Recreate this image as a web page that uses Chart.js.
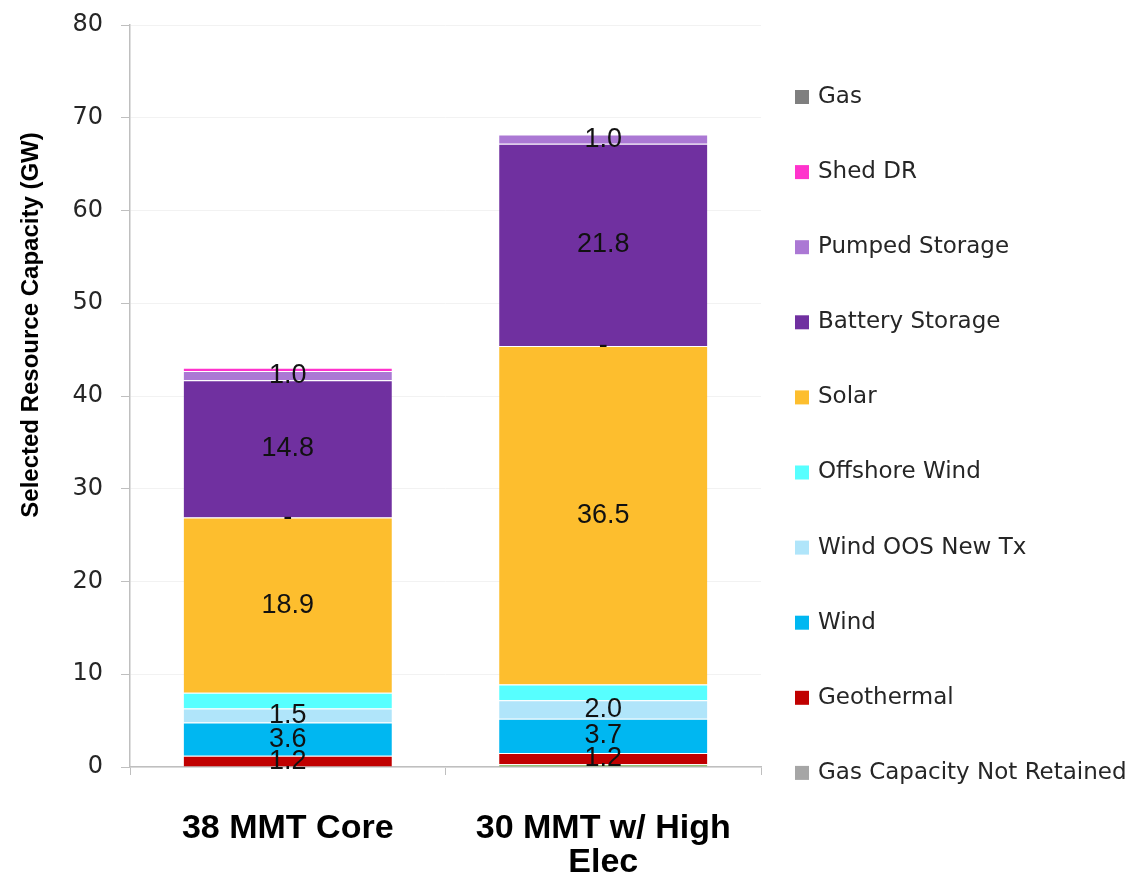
<!DOCTYPE html>
<html>
<head>
<meta charset="utf-8">
<title>Selected Resource Capacity</title>
<script src="https://cdn.jsdelivr.net/npm/chart.js@4.4.1/dist/chart.umd.min.js"></script>
<style>
  html, body { margin: 0; padding: 0; background: #fff; }
  #wrap { position: relative; width: 1132px; height: 874px; }
</style>
</head>
<body>
<div id="wrap"><canvas id="capacity-chart"></canvas></div>
<script>
// Scenarios on the x axis
const scenarios = [['38 MMT Core'], ['30 MMT w/ High', 'Elec']];

// Selected capacity per resource (GW), one value per scenario, stacked bottom -> top
const gasNotRetained = [0, 0];
const otherBase      = [0, 0.3];
const geothermal     = [1.2, 1.2];
const wind           = [3.6, 3.7];
const windOosNewTx   = [1.5, 2.0];
const offshoreWind   = [1.7, 1.7];
const solar          = [18.9, 36.5];
const otherZero      = [0, 0];
const batteryStorage = [14.8, 21.8];
const pumpedStorage  = [1.0, 1.0];
const shedDR         = [0.35, 0];
const gas            = [0, 0];

const yTicks = { min: 0, max: 80, step: 10 };
const yTitle = 'Selected Resource Capacity (GW)';

document.addEventListener('DOMContentLoaded', () => {
    const series = [
        { label: 'Gas Capacity Not Retained', data: gasNotRetained, color: '#a6a6a6' },
        { label: 'Other', data: otherBase, color: '#70ad47', legend: false },
        { label: 'Geothermal', data: geothermal, color: '#c00000', showValue: true },
        { label: 'Wind', data: wind, color: '#00b7f1', showValue: true },
        { label: 'Wind OOS New Tx', data: windOosNewTx, color: '#b0e5fa', showValue: true },
        { label: 'Offshore Wind', data: offshoreWind, color: '#57ffff' },
        { label: 'Solar', data: solar, color: '#fdbe2e', showValue: true },
        { label: 'Other (zero)', data: otherZero, color: '#fdbe2e', legend: false, showValue: true },
        { label: 'Battery Storage', data: batteryStorage, color: '#7030a0', showValue: true },
        { label: 'Pumped Storage', data: pumpedStorage, color: '#ab78d4', showValue: true },
        { label: 'Shed DR', data: shedDR, color: '#ff33cc' },
        { label: 'Gas', data: gas, color: '#7f7f7f' }
    ];

    const datasets = series.map(s => ({
        label: s.label,
        data: s.data,
        backgroundColor: s.color,
        borderColor: '#ffffff',
        borderWidth: ctx => (ctx.raw ? { top: 1, left: 0, right: 0, bottom: 0 } : 0),
        borderSkipped: 'start',
        inLegend: s.legend !== false,
        showValue: !!s.showValue
    }));

    // Value labels centred in each segment; zero values print as a dash
    const segmentLabels = {
        id: 'segmentLabels',
        afterDatasetsDraw(chart) {
            const ctx = chart.ctx;
            ctx.save();
            ctx.font = '27px "Liberation Sans", Arial, sans-serif';
            ctx.fillStyle = '#111';
            ctx.textAlign = 'center';
            ctx.textBaseline = 'middle';
            chart.data.datasets.forEach((ds, i) => {
                if (!ds.showValue) return;
                chart.getDatasetMeta(i).data.forEach((bar, j) => {
                    const v = ds.data[j];
                    const text = v === 0 ? '-' : v.toFixed(1);
                    const p = bar.getCenterPoint();
                    ctx.fillText(text, p.x, p.y);
                });
            });
            ctx.restore();
        }
    };

    // Rotated y-axis title, sitting a little above the middle of the axis
    const axisTitle = {
        id: 'axisTitle',
        afterDraw(chart) {
            const ctx = chart.ctx;
            ctx.save();
            ctx.translate(31, 325);
            ctx.rotate(-Math.PI / 2);
            ctx.font = 'bold 24px "Liberation Sans", Arial, sans-serif';
            ctx.fillStyle = '#000';
            ctx.textAlign = 'center';
            ctx.textBaseline = 'middle';
            ctx.fillText(yTitle, 0, 0);
            ctx.restore();
        }
    };

    // Legend column on the right, top entry = top of the stack
    const sideLegend = {
        id: 'sideLegend',
        afterDraw(chart) {
            const ctx = chart.ctx;
            const items = chart.data.datasets.filter(ds => ds.inLegend).reverse();
            const x = 795, top = 97, step = 75.1, box = 14;
            ctx.save();
            ctx.font = '23px "DejaVu Sans", sans-serif';
            ctx.textBaseline = 'middle';
            ctx.textAlign = 'left';
            items.forEach((ds, i) => {
                const y = top + i * step;
                ctx.fillStyle = ds.backgroundColor;
                ctx.fillRect(x, y - box / 2, box, box);
                ctx.fillStyle = '#262626';
                ctx.fillText(ds.label, x + box + 9, y);
            });
            ctx.restore();
        }
    };

    new Chart(document.getElementById('capacity-chart'), {
        type: 'bar',
        data: { labels: scenarios, datasets },
        plugins: [segmentLabels, axisTitle, sideLegend],
        options: {
            responsive: true,
            maintainAspectRatio: false,
            animation: false,
            devicePixelRatio: 1,
            layout: { padding: { top: 25, right: 371, bottom: 0, left: 0 } },
            datasets: { bar: { categoryPercentage: 1, barPercentage: 0.66 } },
            plugins: {
                legend: { display: false },
                tooltip: { enabled: false }
            },
            scales: {
                x: {
                    stacked: true,
                    afterFit: scale => { scale.height = 107; },
                    grid: { offset: true, drawOnChartArea: false, drawTicks: true, tickLength: 8, tickColor: '#bfbfbf' },
                    border: { color: '#bfbfbf', width: 1.5 },
                    ticks: {
                        color: '#000',
                        padding: 37,
                        font: { family: '"Liberation Sans", Arial, sans-serif', size: 34, weight: 'bold', lineHeight: 1.0 }
                    }
                },
                y: {
                    stacked: true,
                    min: yTicks.min,
                    max: yTicks.max,
                    afterFit: scale => {
                        scale.width = 130;
                        scale.paddingTop = 0;
                        scale.paddingBottom = 0;
                    },
                    grid: { color: '#f2f2f2', tickLength: 9, tickColor: '#bfbfbf' },
                    border: { color: '#bfbfbf', width: 1.5 },
                    ticks: {
                        stepSize: yTicks.step,
                        padding: 18,
                        color: '#262626',
                        font: { family: '"DejaVu Sans", sans-serif', size: 24 }
                    }
                }
            }
        }
    });
});
</script>
</body>
</html>
